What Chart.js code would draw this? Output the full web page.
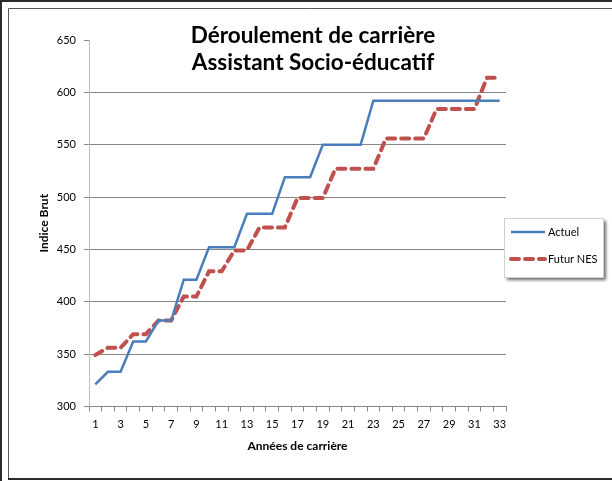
<!DOCTYPE html>
<html>
<head>
<meta charset="utf-8">
<script src="https://cdn.jsdelivr.net/npm/chart.js@4"></script>
<style>
  body { margin: 0; background: #fff; }
  canvas { display: block; }
</style>
</head>
<body>
<canvas id="chart" width="612" height="481"></canvas>
<script>
// Années 1 à 33
const annees = [];
for (let i = 1; i <= 33; i++) annees.push(String(i));

// Indice brut
const actuel = [321, 333, 333, 362, 362, 382, 382, 421, 421, 452, 452, 452, 484, 484, 484,
  519, 519, 519, 550, 550, 550, 550, 592, 592, 592, 592, 592, 592, 592, 592, 592, 592, 592];
const futurNes = [349, 356, 356, 369, 369, 382, 382, 405, 405, 429, 429, 449, 449, 471, 471,
  471, 499, 499, 499, 527, 527, 527, 527, 556, 556, 556, 556, 584, 584, 584, 584, 614, 614];

const titreLignes = ['Déroulement de carrière', 'Assistant Socio-éducatif'];
const POLICE = 'Lato, "Open Sans", sans-serif';

// Cadre, titre et légende dessinés à la main (façon Excel)
const decorPlugin = {
  id: 'decor',
  beforeDraw(chart) {
    const ctx = chart.ctx;
    ctx.save();
    ctx.fillStyle = '#fff';
    ctx.fillRect(0, 0, chart.width, chart.height);
    ctx.restore();
  },
  afterDraw(chart) {
    const ctx = chart.ctx;
    ctx.save();
    // double cadre
    ctx.strokeStyle = '#2b2b2b';
    ctx.lineWidth = 2;
    ctx.strokeRect(1, 1, 700, 600);
    ctx.strokeStyle = '#555';
    ctx.lineWidth = 1;
    ctx.beginPath();
    ctx.moveTo(8.5, 480);
    ctx.lineTo(8.5, 8.5);
    ctx.lineTo(700, 8.5);
    ctx.stroke();
    ctx.strokeStyle = '#2b2b2b';
    ctx.lineWidth = 2;
    ctx.beginPath();
    ctx.moveTo(8, 479);
    ctx.lineTo(700, 479);
    ctx.stroke();

    // titre
    ctx.fillStyle = '#000';
    ctx.font = 'bold 22.5px ' + POLICE;
    ctx.textAlign = 'center';
    ctx.textBaseline = 'middle';
    ctx.fillText(titreLignes[0], 313, 36);
    ctx.fillText(titreLignes[1], 313, 63);

    // légende
    const lx = 504, ly = 218, lw = 99, lh = 59;
    ctx.save();
    ctx.shadowColor = 'rgba(0,0,0,0.6)';
    ctx.shadowOffsetX = 3;
    ctx.shadowOffsetY = 3;
    ctx.shadowBlur = 3;
    ctx.fillStyle = '#fff';
    ctx.fillRect(lx, ly, lw, lh);
    ctx.restore();
    ctx.strokeStyle = '#d0d0d0';
    ctx.lineWidth = 1;
    ctx.strokeRect(lx + 0.5, ly + 0.5, lw, lh);

    ctx.font = '11px ' + POLICE;
    ctx.textAlign = 'left';
    chart.data.datasets.forEach((ds, i) => {
      const y = 232 + i * 27;
      ctx.strokeStyle = ds.borderColor;
      ctx.lineWidth = ds.borderWidth;
      ctx.lineCap = ds.borderDash ? 'round' : 'butt';
      ctx.setLineDash(ds.borderDash || []);
      ctx.beginPath();
      ctx.moveTo(511, y);
      ctx.lineTo(545, y);
      ctx.stroke();
      ctx.setLineDash([]);
      ctx.fillStyle = '#000';
      ctx.fillText(ds.label, 548, y);
    });
    ctx.restore();
  }
};

new Chart(document.getElementById('chart'), {
  type: 'line',
  data: {
    labels: annees,
    datasets: [
      {
        label: 'Actuel',
        data: actuel,
        borderColor: '#4a7ebb',
        borderWidth: 2.5,
        pointRadius: 0,
        fill: false,
        tension: 0
      },
      {
        label: 'Futur NES',
        data: futurNes,
        borderColor: '#c0504d',
        borderWidth: 4,
        borderDash: [8, 6],
        borderCapStyle: 'round',
        pointRadius: 0,
        fill: false,
        tension: 0
      }
    ]
  },
  options: {
    responsive: false,
    animation: false,
    devicePixelRatio: 1,
    layout: { padding: { top: 40, right: 106, bottom: 24, left: 37 } },
    plugins: {
      legend: { display: false },
      title: { display: false },
      tooltip: { enabled: false }
    },
    scales: {
      x: {
        offset: true,
        grid: {
          offset: true,
          drawOnChartArea: false,
          tickLength: 5,
          color: '#868686'
        },
        border: { color: '#868686' },
        ticks: {
          autoSkip: false,
          maxRotation: 0,
          padding: 6,
          color: '#000',
          font: { family: POLICE, size: 11 },
          callback: (val, idx) => (idx % 2 === 0 ? annees[idx] : '')
        },
        title: {
          display: true,
          text: 'Années de carrière',
          color: '#000',
          font: { family: POLICE, size: 12, weight: 'bold' },
          padding: { top: 2 }
        }
      },
      y: {
        min: 300,
        max: 650,
        afterFit: (scale) => { scale.width = 52; },
        grid: {
          color: (c) => (c.tick.value === 650 ? 'rgba(0,0,0,0)' : '#868686'),
          tickColor: '#868686',
          tickLength: 5
        },
        border: { color: '#bfbfbf' },
        ticks: {
          stepSize: 50,
          padding: 8,
          color: '#000',
          font: { family: POLICE, size: 11 }
        },
        title: {
          display: true,
          text: 'Indice Brut',
          color: '#000',
          font: { family: POLICE, size: 12, weight: 'bold' },
          padding: { top: 0, bottom: 0 }
        }
      }
    }
  },
  plugins: [decorPlugin]
});
</script>
</body>
</html>
